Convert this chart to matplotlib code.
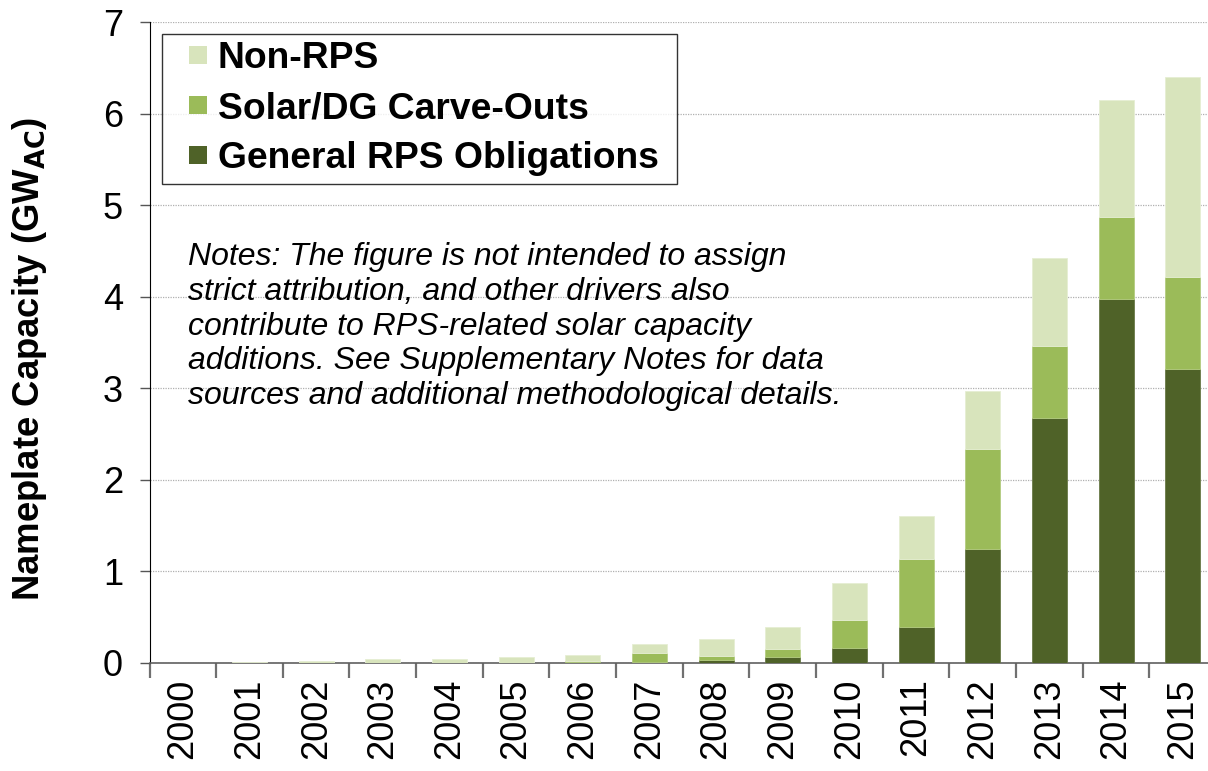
import matplotlib.pyplot as plt
from matplotlib.patches import Patch, Rectangle
from matplotlib.legend_handler import HandlerPatch

years = ['2000', '2001', '2002', '2003', '2004', '2005', '2006', '2007',
         '2008', '2009', '2010', '2011', '2012', '2013', '2014', '2015']
# stacked components, GW_AC (cumulative tops)
general = [0, 0, 0, 0, 0, 0, 0.015, 0.007, 0.036, 0.062, 0.16, 0.39, 1.25, 2.68, 3.98, 3.21]
carve_top = [0, 0, 0, 0, 0, 0, 0.02, 0.105, 0.073, 0.156, 0.47, 1.14, 2.34, 3.46, 4.87, 4.22]
total_top = [0, 0.007, 0.018, 0.04, 0.047, 0.069, 0.09, 0.21, 0.265, 0.39, 0.87, 1.61, 2.97, 4.42, 6.15, 6.40]

carve = [max(c - g, 0) for c, g in zip(carve_top, general)]
non_rps = [max(t - c, 0) for t, c in zip(total_top, carve_top)]
carve_base = general
non_base = [g + c for g, c in zip(general, carve)]

c_gen = '#4F6228'
c_carve = '#9BBB59'
c_non = '#D8E4BC'

plt.rcParams['font.family'] = ['Liberation Sans', 'DejaVu Sans']

fig = plt.figure(figsize=(12.08, 7.71), dpi=100)
ax = fig.add_axes([149.5 / 1208, 1 - 663 / 771, (1216 - 149.5) / 1208, (663 - 22) / 771])

x = list(range(len(years)))
w = 0.525
ax.bar(x, general, w, color=c_gen, edgecolor='#6a7a48', linewidth=0.6, zorder=3)
ax.bar(x, carve, w, bottom=carve_base, color=c_carve, edgecolor='#b4cc80', linewidth=0.6, zorder=3)
ax.bar(x, non_rps, w, bottom=non_base, color=c_non, edgecolor='#e6eed3', linewidth=0.6, zorder=3)

ax.set_xlim(-0.5, len(years) - 0.5)
ax.set_ylim(0, 7)
ax.set_yticks(range(0, 8))
ax.yaxis.grid(True, color='#b0b0b0', linestyle=(0, (1, 1)), linewidth=0.9, zorder=0)
ax.tick_params(axis='y', labelsize=26, length=7, width=1, color='#555555', pad=12)

ax.set_xticks(x)
ax.set_xticklabels(years, rotation=90, fontsize=26)
ax.tick_params(axis='x', length=0, pad=11)
ax.set_xticks([i - 0.5 for i in range(len(years) + 1)], minor=True)
ax.tick_params(axis='x', which='minor', length=11, width=1.6, color='#707070')

for side in ['top', 'right']:
    ax.spines[side].set_visible(False)
ax.spines['left'].set_color('black')
ax.spines['bottom'].set_color('#606060')
ax.spines['bottom'].set_linewidth(1.2)

ax.set_ylabel('Nameplate Capacity (GW$_{\\mathbf{AC}}$)', fontsize=26.3, fontweight='bold')
ax.yaxis.set_label_coords(-0.094, 0.474)


# square legend marker sitting at the right end of the handle box
def square_patch(legend, orig_handle, xdescent, ydescent, width, height, fontsize):
    side = 18 * 72 / 100
    return Rectangle((width - xdescent - side, height / 2 - ydescent - side / 2), side, side)


handles = [Patch(facecolor=c_non, edgecolor='none'),
           Patch(facecolor=c_carve, edgecolor='none'),
           Patch(facecolor=c_gen, edgecolor='none')]
labels = ['Non-RPS', 'Solar/DG Carve-Outs', 'General RPS Obligations ']
leg = ax.legend(handles, labels, loc='upper left', bbox_to_anchor=(12.5 / 1066.5, 1 - 12 / 641),
                prop={'size': 26.8, 'weight': 'bold'}, frameon=True, fancybox=False,
                edgecolor='black', handlelength=1.0, handleheight=0.5, handletextpad=0.3,
                labelspacing=0.4, borderpad=0.2, borderaxespad=0,
                handler_map={Patch: HandlerPatch(patch_func=square_patch)})
leg.get_frame().set_linewidth(1.0)

notes = ('Notes: The figure is not intended to assign\n'
         'strict attribution, and other drivers also\n'
         'contribute to RPS-related solar capacity\n'
         'additions. See Supplementary Notes for data\n'
         'sources and additional methodological details.')
fig.text(188 / 1208, 1 - 242 / 771, notes, fontsize=23, style='italic',
         va='top', ha='left', linespacing=1.21)

fig.savefig('out.png', dpi=100)
